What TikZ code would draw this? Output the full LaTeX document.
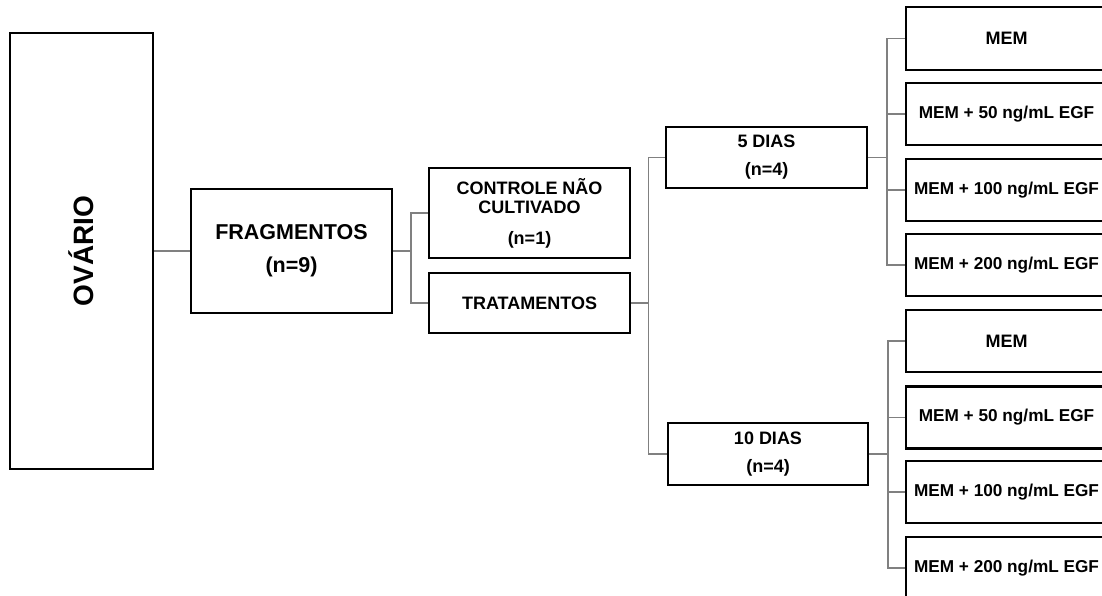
\documentclass[tikz,border=0pt]{standalone}
\usepackage{fontspec}
\setmainfont{Liberation Sans}
\begin{document}
\begin{tikzpicture}[x=1pt,y=-1pt,
  box/.style={draw=black, line width=2.7pt, inner sep=0pt, align=center, minimum width=201pt},
  conn/.style={draw=gray, line width=1.3pt},
  bigtxt/.style={font=\bfseries\fontsize{21.5}{33}\selectfont},
  midtxt/.style={font=\bfseries\fontsize{18}{28}\selectfont},
  memtxt/.style={font=\bfseries\fontsize{17.2}{20}\selectfont},
  memb/.style={box, memtxt, minimum height=62pt}]
\clip (0,0) rectangle (1102,596);
\fill[white] (0,0) rectangle (1102,596);

% left
\node[box, minimum width=143pt, minimum height=436pt] (ov) at (81.5,251) {};
\node[rotate=90, font=\bfseries\fontsize{28}{32}\selectfont, inner sep=0pt] (ovl) at (ov.center) {OVÁRIO};
\node[box, bigtxt, minimum height=124pt] (frag) at (291.5,251) {FRAGMENTOS\\(n=9)};

% middle
\node[box, font=\bfseries\fontsize{18}{19}\selectfont, minimum height=90pt] (ctrl) at (529.5,213) {CONTROLE NÃO\\CULTIVADO\\[12pt](n=1)};
\node[box, font=\bfseries\fontsize{18}{22}\selectfont, minimum height=60pt] (trat) at (529.5,303) {TRATAMENTOS};

\node[box, midtxt, minimum height=61pt] (d5) at (766.5,157.5) {5 DIAS\\(n=4)};
\node[box, midtxt, minimum height=62pt, minimum width=200pt] (d10) at (768,454) {10 DIAS\\(n=4)};

% right, 5 days
\node[memb, minimum height=63pt, font=\bfseries\fontsize{18}{20}\selectfont] (a1) at (1006.5,38.5) {MEM};
\node[memb] (a2) at (1006.5,114) {MEM + 50 ng/mL EGF};
\node[memb] (a3) at (1006.5,190) {MEM + 100 ng/mL EGF};
\node[memb] (a4) at (1006.5,265) {MEM + 200 ng/mL EGF};
% right, 10 days
\node[memb, font=\bfseries\fontsize{18}{20}\selectfont] (b1) at (1006.5,341) {MEM};
\node[memb] (b2) at (1006.5,417.5) {MEM + 50 ng/mL EGF};
\node[memb] (b3) at (1006.5,492) {MEM + 100 ng/mL EGF};
\node[memb] (b4) at (1006.5,568) {MEM + 200 ng/mL EGF};

% connectors
\coordinate (j1) at (411,251);
\coordinate (j2) at (648.5,303);
\coordinate (j3) at (887,157.5);
\coordinate (j4) at (888,454);

\draw[conn] (ov.east) -- (frag.west);
\draw[conn] (frag.east) -- (j1);
\draw[conn] (j1) |- (ctrl.west);
\draw[conn] (j1) |- (trat.west);
\draw[conn] (trat.east) -- (j2);
\draw[conn] (j2) |- (d5.west);
\draw[conn] (j2) |- (d10.west);
\draw[conn] (d5.east) -- (j3);
\foreach \n in {a1,a2,a3,a4} \draw[conn] (j3) |- (\n.west);
\draw[conn] (d10.east) -- (j4);
\foreach \n in {b1,b2,b3,b4} \draw[conn] (j4) |- (\n.west);
\end{tikzpicture}
\end{document}
